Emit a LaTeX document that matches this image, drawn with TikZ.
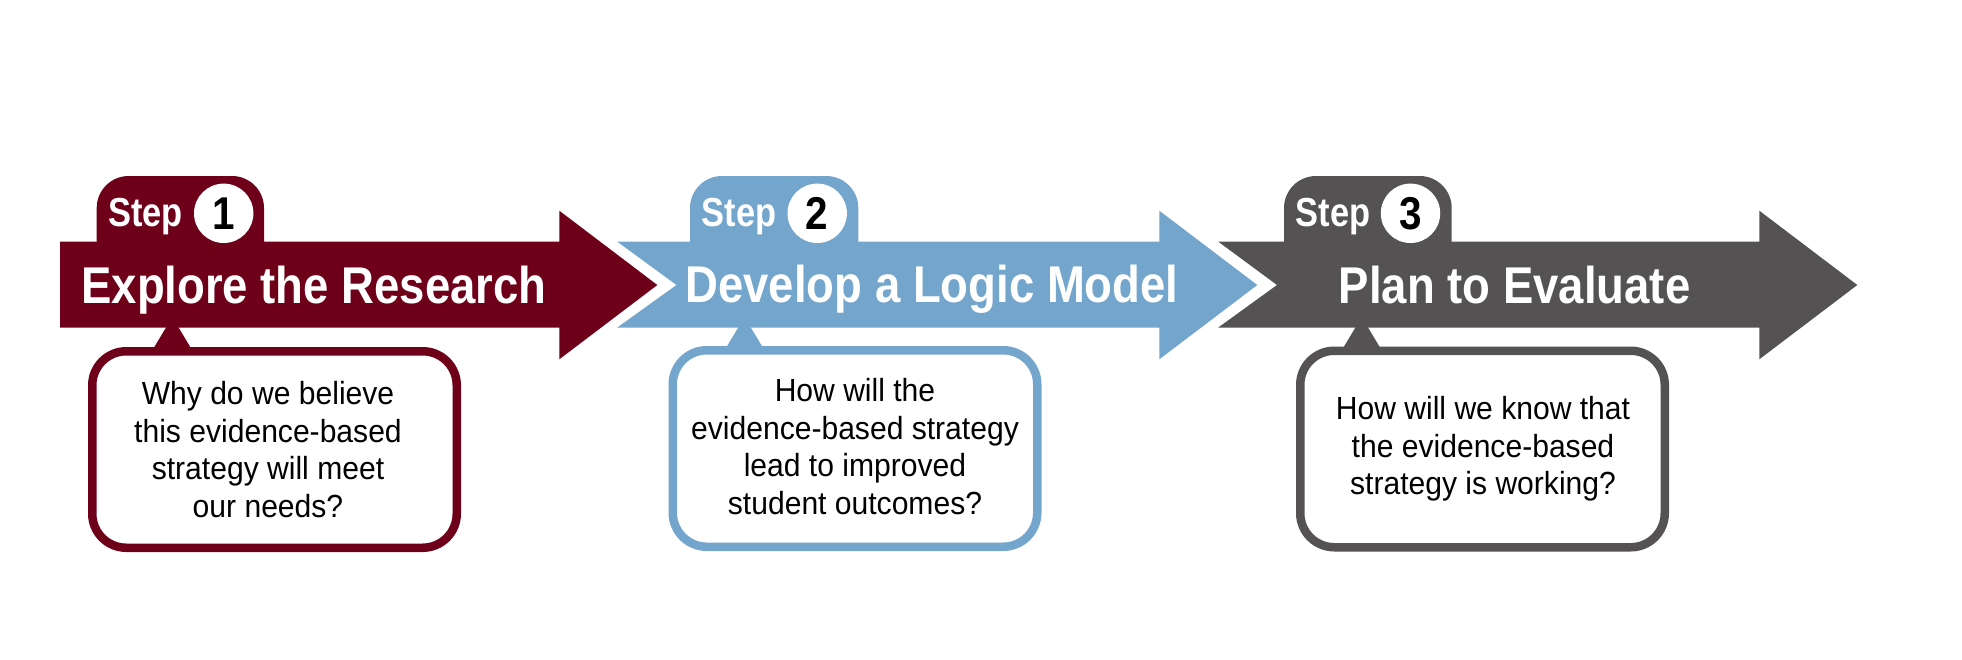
\documentclass[tikz,border=0pt]{standalone}
\usepackage{fontspec}
\setmainfont{Liberation Sans}
\newfontfamily\titlefont{Liberation Sans}[FakeStretch=0.88]
\newfontfamily\stepfont{Liberation Sans}[FakeStretch=0.85]
\newfontfamily\qfont{Liberation Sans}[FakeStretch=0.94]
\definecolor{maroonc}{RGB}{110,0,26}
\definecolor{bluec}{RGB}{116,165,204}
\definecolor{grayc}{RGB}{84,82,83}
\begin{document}
\begin{tikzpicture}[x=1pt,y=-1pt,
  titletext/.style={text=white, inner sep=0, anchor=base,
    font=\titlefont\bfseries\fontsize{51.7}{60}\selectfont},
  steplabel/.style={text=white, inner sep=0, anchor=base west,
    font=\stepfont\bfseries\fontsize{40.5}{48}\selectfont},
  numcircle/.style={circle, fill=white, minimum size=59.4pt, inner sep=0, text=black,
    font=\titlefont\bfseries\fontsize{46}{50}\selectfont},
  steptab/.style={fill=#1, rounded corners=32pt},
  bubble/.style={draw=#1, line width=8.5pt, fill=white, rounded corners=34pt,
    minimum width=364.5pt, minimum height=196.5pt, inner sep=0},
  question/.style={align=center, inner sep=0, text=black,
    font=\qfont\fontsize{32}{37.5}\selectfont}]
\useasboundingbox (0,0) rectangle (1962,659);

% step tabs
\fill[steptab=maroonc] (96.7,300) -- (96.7,176) -- (264,176) -- (264,300) -- cycle;
\fill[steptab=bluec] (690,300) -- (690,176) -- (858.3,176) -- (858.3,300) -- cycle;
\fill[steptab=grayc] (1284,300) -- (1284,176) -- (1451.7,176) -- (1451.7,300) -- cycle;

% arrows
\fill[maroonc] (60,241.7) -- (559.3,241.7) -- (559.3,210.7) -- (657.3,285)
  -- (559.3,359.3) -- (559.3,327.5) -- (60,327.5) -- cycle;
\fill[bluec] (617.3,241.7) -- (1159.3,241.7) -- (1159.3,210.7) -- (1257.3,285)
  -- (1159.3,359.3) -- (1159.3,327.5) -- (617.3,327.5) -- (676.5,285) -- cycle;
\fill[grayc] (1218.3,241.7) -- (1759.3,241.7) -- (1759.3,210.7) -- (1857.3,285)
  -- (1759.3,359.3) -- (1759.3,327.5) -- (1218.3,327.5) -- (1277,285) -- cycle;

% pointers
\coordinate (p1) at (172.3,317);
\coordinate (p2) at (744.5,317);
\coordinate (p3) at (1361.7,317);
\fill[maroonc] (p1) -- ++(-21,35) -- ++(42,0) -- cycle;
\fill[bluec] (p2) -- ++(-21,35) -- ++(42,0) -- cycle;
\fill[grayc] (p3) -- ++(-21,35) -- ++(42,0) -- cycle;

% bubbles
\node[bubble=maroonc] (b1) at (274.5,449.5) {};
\node[bubble=bluec] (b2) at (855,448.5) {};
\node[bubble=grayc] (b3) at (1482.5,449) {};

% step labels and numbers
\node[steplabel] (s1) at (108,226.7) {Step};
\node[steplabel] (s2) at (701.7,226.7) {Step};
\node[steplabel] (s3) at (1295.7,226.7) {Step};
\node[numcircle] (c1) at (223.7,213.3) {1};
\node[numcircle] (c2) at (817.2,213.3) {2};
\node[numcircle] (c3) at (1410.5,213.3) {3};

% titles
\node[titletext] (t1) at (314,303) {Explore the Research};
\node[titletext] (t2) at (932,302.7) {Develop a Logic Model};
\node[titletext] (t3) at (1514.7,303) {Plan to Evaluate};

% questions
\node[question] (q1) at (268,449.6) {Why do we believe\\this evidence-based\\strategy will meet\\our needs?};
\node[question] (q2) at (855,446.7) {How will the\\evidence-based strategy\\lead to improved\\student outcomes?};
\node[question] (q3) at (1483,449.2) {How will we know that\\the evidence-based\\strategy is working?};
\end{tikzpicture}
\end{document}
